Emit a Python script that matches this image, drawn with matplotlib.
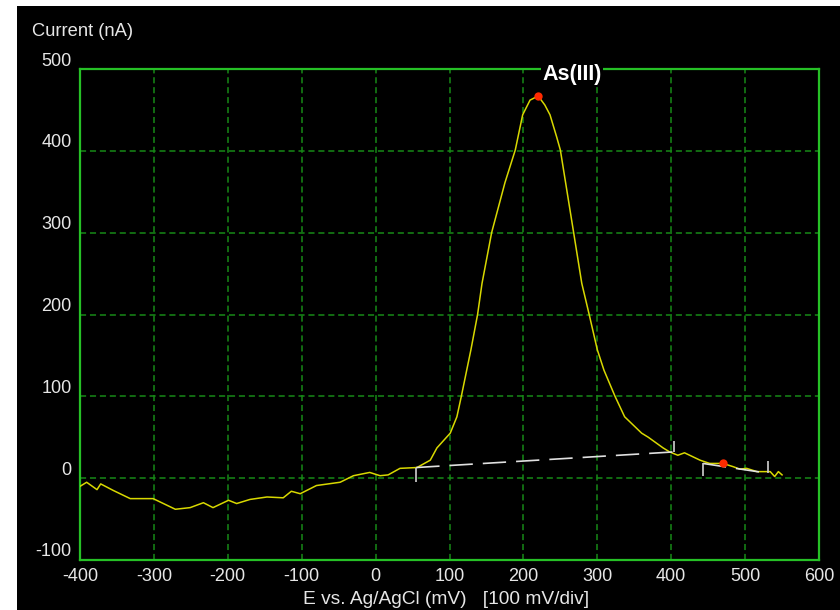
import matplotlib
matplotlib.use('Agg')
import matplotlib.pyplot as plt
import matplotlib.transforms as mtransforms
from matplotlib.patches import Rectangle

# voltammogram (mV, nA)
potential = [-400, -391, -377, -372, -355, -332, -301, -271, -251, -233,
             -220, -199, -188, -170, -147, -125, -114, -102, -80, -48,
             -30, -8, 6, 17, 33, 56, 74, 83, 101, 110,
             116, 129, 138, 144, 157, 175, 189, 199, 209, 220,
             229, 236, 245, 250, 268, 279, 289, 300, 309, 324,
             337, 360, 369, 389, 398, 409, 418, 439, 452, 470,
             484, 493, 502, 516, 534, 540, 545, 550]
current = [-10, -5, -14, -7, -15, -25, -25, -38, -36, -30,
           -36, -27, -31, -26, -23, -24, -16, -19, -9, -5,
           3, 7, 3, 4, 12, 13, 22, 37, 55, 75,
           100, 157, 200, 238, 300, 361, 401, 444, 462, 467,
           456, 444, 417, 401, 300, 238, 200, 157, 132, 100,
           75, 55, 50, 37, 32, 28, 31, 22, 18, 18,
           14, 11, 12, 8, 8, 2, 8, 4]

# baselines and their end markers
base1_x = [55, 402]
base1_y = [13, 32]
base2_x = [443, 531]
base2_y = [18, 6]
tick_x = [55, 404, 443, 531]
tick_lo = [-5, 32, 3, 6]
tick_hi = [13, 46, 18, 21]

peak_x = [220, 470]
peak_y = [467, 18]
peak_label = "As(III)"
label_pos = (266, 493)

x_ticks = [-400, -300, -200, -100, 0, 100, 200, 300, 400, 500, 600]
y_ticks = [-100, 0, 100, 200, 300, 400, 500]

FONT = ['Liberation Sans', 'DejaVu Sans']
TXT = '#e6e6e6'
GRID = '#178a17'
FRAME = '#26c026'
CURVE = '#d8d800'

fig = plt.figure(figsize=(8.4, 6.1), dpi=100, facecolor='white')
fig.patches.append(Rectangle((17 / 840, 0), 1, 1 - 6 / 610, transform=fig.transFigure,
                             facecolor='black', edgecolor='none', zorder=-10))

ax = fig.add_axes([80 / 840, 1 - 560 / 610, 739 / 840, 491 / 610])
ax.set_facecolor('black')
ax.set_xlim(-400, 600)
ax.set_ylim(-100, 500)

ax.set_xticks(x_ticks)
ax.set_yticks(y_ticks)
ax.set_xticklabels([str(v) for v in x_ticks], family=FONT, fontsize=13, color=TXT)
ax.set_yticklabels([str(v) for v in y_ticks], family=FONT, fontsize=13, color=TXT)
ax.tick_params(length=0, pad=6)
# y labels sit a little above their grid lines
for lab in ax.get_yticklabels():
    lab.set_transform(lab.get_transform() +
                      mtransforms.ScaledTranslation(0, 10 / 100, fig.dpi_scale_trans))

ax.grid(True, color=GRID, linestyle=(0, (4, 2.5)), linewidth=1.1)
for sp in ax.spines.values():
    sp.set_color(FRAME)
    sp.set_linewidth(1.6)

ax.plot(potential, current, color=CURVE, linewidth=1.1, zorder=3)
ax.plot(base1_x, base1_y, color='#e0e0e0', linewidth=1.2, dashes=(14, 6), zorder=4)
ax.plot(base2_x, base2_y, color='#e0e0e0', linewidth=1.2, dashes=(14, 6), zorder=4)
ax.vlines(tick_x, tick_lo, tick_hi, color='#d0d0d0', linewidth=1.2, zorder=4)
ax.plot(peak_x, peak_y, 'o', color='#ff2a00', markersize=6, markeredgewidth=0, zorder=5)

ax.text(label_pos[0], label_pos[1], peak_label, family=FONT, fontsize=15.5, fontweight='bold',
        color='white', ha='center', va='center', clip_on=False, zorder=6,
        bbox=dict(facecolor='black', edgecolor='none', pad=1))

fig.text(32 / 840, 1 - 32 / 610, 'Current (nA)', family=FONT, fontsize=13.2, color=TXT,
         ha='left', va='center')
fig.text(446 / 840, 1 - 599 / 610, 'E vs. Ag/AgCl (mV)   [100 mV/div]', family=FONT,
         fontsize=13.8, color=TXT, ha='center', va='center')

fig.savefig('out.png', dpi=100, facecolor='white')
